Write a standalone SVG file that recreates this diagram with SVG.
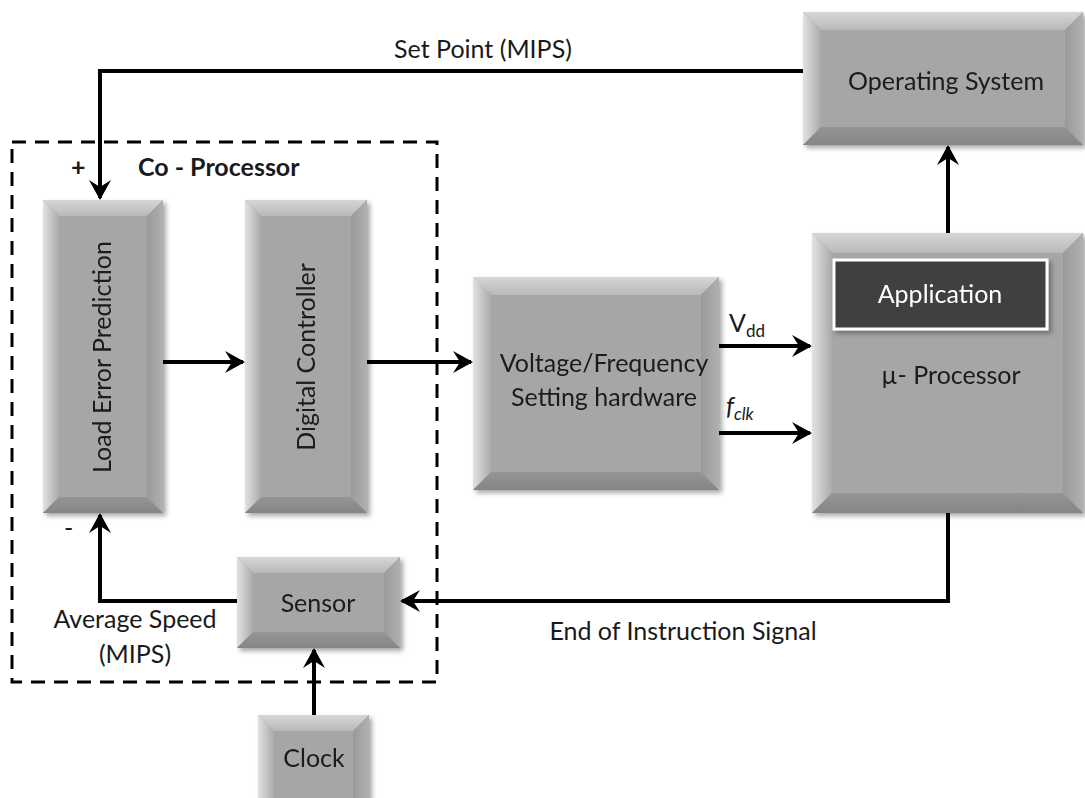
<svg xmlns="http://www.w3.org/2000/svg" width="1085" height="798" viewBox="0 0 1085 798">
<defs>
<style>
.t{font-family:Lato,"Liberation Sans",sans-serif;font-size:25px;fill:#1a1a1a}
.c{text-anchor:middle}
.b{font-weight:bold}
.top{fill:url(#gTop)}
.lft{fill:url(#gLeft)}
.rgt{fill:url(#gRight)}
.bot{fill:url(#gBot)}
.mid{fill:#a6a6a6}
.ln{fill:none;stroke:#000;stroke-width:4}
.ar{marker-end:url(#arr)}
</style>
<linearGradient id="gTop" x1="0" y1="0" x2="0" y2="1"><stop offset="0" stop-color="#d6d6d6"/><stop offset="1" stop-color="#b9b9b9"/></linearGradient>
<linearGradient id="gLeft" x1="0" y1="0" x2="1" y2="0"><stop offset="0" stop-color="#e2e2e2"/><stop offset="1" stop-color="#aaaaaa"/></linearGradient>
<linearGradient id="gRight" x1="0" y1="0" x2="1" y2="0"><stop offset="0" stop-color="#9a9a9a"/><stop offset="1" stop-color="#b0b0b0"/></linearGradient>
<linearGradient id="gBot" x1="0" y1="0" x2="0" y2="1"><stop offset="0" stop-color="#959595"/><stop offset="1" stop-color="#858585"/></linearGradient>
<filter id="sh" x="-10%" y="-10%" width="130%" height="130%"><feDropShadow dx="3" dy="3" stdDeviation="2.5" flood-color="#000" flood-opacity="0.35"/></filter>
<marker id="arr" viewBox="0 0 20 22" refX="18" refY="11" markerWidth="20" markerHeight="22" markerUnits="userSpaceOnUse" orient="auto">
<path d="M0,0 L20,11 L0,22 L7,11 Z" fill="#000"/>
</marker>
</defs>
<rect width="1085" height="798" fill="#fff"/>

<g id="coprocessor">
<rect x="12" y="142" width="425" height="540" fill="none" stroke="#000" stroke-width="3" stroke-dasharray="14 9"/>
<text class="t b" x="138" y="176">Co - Processor</text>
</g>

<g id="os" filter="url(#sh)">
<rect class="mid" x="803" y="12" width="280" height="133"/>
<polygon class="top" points="803,12 1083,12 1065,30 821,30"/>
<polygon class="lft" points="803,12 821,30 821,127 803,145"/>
<polygon class="rgt" points="1083,12 1083,145 1065,127 1065,30"/>
<polygon class="bot" points="803,145 1083,145 1065,127 821,127"/>
<text class="t c" x="946" y="90">Operating System</text>
</g>

<g id="lep" filter="url(#sh)">
<rect class="mid" x="43" y="200" width="120" height="313"/>
<polygon class="top" points="43,200 163,200 147,216 59,216"/>
<polygon class="lft" points="43,200 59,216 59,497 43,513"/>
<polygon class="rgt" points="163,200 163,513 147,497 147,216"/>
<polygon class="bot" points="43,513 163,513 147,497 59,497"/>
<text class="t c" transform="translate(111,357) rotate(-90)">Load Error Prediction</text>
</g>

<g id="dc" filter="url(#sh)">
<rect class="mid" x="245" y="200" width="122" height="313"/>
<polygon class="top" points="245,200 367,200 351,216 261,216"/>
<polygon class="lft" points="245,200 261,216 261,497 245,513"/>
<polygon class="rgt" points="367,200 367,513 351,497 351,216"/>
<polygon class="bot" points="245,513 367,513 351,497 261,497"/>
<text class="t c" transform="translate(315,357) rotate(-90)">Digital Controller</text>
</g>

<g id="vf" filter="url(#sh)">
<rect class="mid" x="473" y="277" width="246" height="213"/>
<polygon class="top" points="473,277 719,277 701,295 491,295"/>
<polygon class="lft" points="473,277 491,295 491,472 473,490"/>
<polygon class="rgt" points="719,277 719,490 701,472 701,295"/>
<polygon class="bot" points="473,490 719,490 701,472 491,472"/>
<text class="t c" x="604" y="372">Voltage/Frequency</text>
<text class="t c" x="604" y="406">Setting hardware</text>
</g>

<g id="up" filter="url(#sh)">
<rect class="mid" x="812" y="233" width="271" height="280"/>
<polygon class="top" points="812,233 1083,233 1063,253 832,253"/>
<polygon class="lft" points="812,233 832,253 832,493 812,513"/>
<polygon class="rgt" points="1083,233 1083,513 1063,493 1063,253"/>
<polygon class="bot" points="812,513 1083,513 1063,493 832,493"/>
<text class="t c" x="951" y="384">µ- Processor</text>
</g>

<g id="app" filter="url(#sh)">
<rect x="834" y="260" width="213" height="69" fill="#404040" stroke="#fff" stroke-width="3"/>
<text class="t c" x="940" y="303" style="fill:#fff">Application</text>
</g>

<g id="sensor" filter="url(#sh)">
<rect class="mid" x="237" y="557" width="163" height="91"/>
<polygon class="top" points="237,557 400,557 384,573 253,573"/>
<polygon class="lft" points="237,557 253,573 253,632 237,648"/>
<polygon class="rgt" points="400,557 400,648 384,632 384,573"/>
<polygon class="bot" points="237,648 400,648 384,632 253,632"/>
<text class="t c" x="318" y="612">Sensor</text>
</g>

<g id="clock" filter="url(#sh)">
<rect class="mid" x="258" y="715" width="111" height="100"/>
<polygon class="top" points="258,715 369,715 353,731 274,731"/>
<polygon class="lft" points="258,715 274,731 274,799 258,815"/>
<polygon class="rgt" points="369,715 369,815 353,799 353,731"/>
<polygon class="bot" points="258,815 369,815 353,799 274,799"/>
<text class="t c" x="314" y="767">Clock</text>
</g>

<g id="connectors">
<path class="ln ar" d="M803,71 H100 V198"/>
<path class="ln ar" d="M163,362 H243"/>
<path class="ln ar" d="M367,362 H471"/>
<path class="ln ar" d="M719,346 H810"/>
<path class="ln ar" d="M719,433 H810"/>
<path class="ln ar" d="M948,233 V147"/>
<path class="ln ar" d="M948,513 V601 H402"/>
<path class="ln ar" d="M237,601 H100 V515"/>
<path class="ln ar" d="M314,715 V650"/>
</g>

<g id="labels">
<text class="t c" x="483" y="58">Set Point (MIPS)</text>
<text class="t b" x="71" y="176">+</text>
<text class="t" x="64" y="537">-</text>
<text class="t c" x="135" y="628">Average Speed</text>
<text class="t c" x="135" y="663">(MIPS)</text>
<text class="t c" x="683" y="640">End of Instruction Signal</text>
<text class="t" x="729" y="332">V<tspan font-size="17" dy="5">dd</tspan></text>
<text class="t" x="726" y="415"><tspan font-style="italic">f</tspan><tspan font-size="17" font-style="italic" dy="5">clk</tspan></text>
</g>
</svg>
